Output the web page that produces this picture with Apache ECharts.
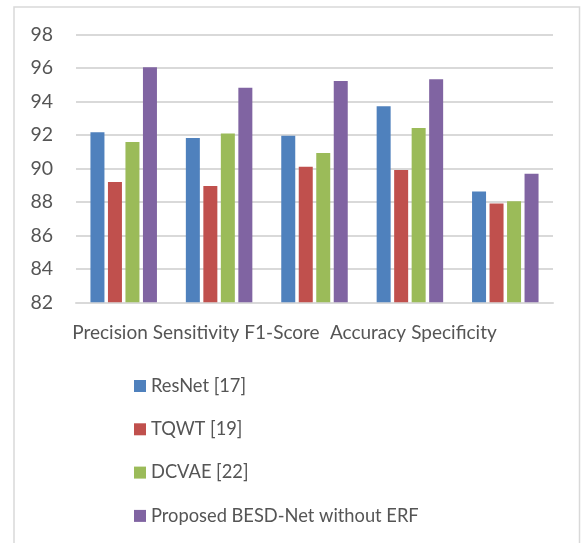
<!DOCTYPE html>
<html>
<head>
<meta charset="utf-8">
<script src="https://cdn.jsdelivr.net/npm/echarts@6/dist/echarts.min.js"></script>
<style>
  html, body { margin: 0; padding: 0; background: #ffffff; }
  #chart { width: 582px; height: 543px; }
</style>
</head>
<body>
<div id="chart"></div>
<script>
// Metric names along the horizontal axis
const categories = ['Precision', 'Sensitivity', 'F1-Score', 'Accuracy', 'Specificity'];

// Scores (%) per method
const resnet = [92.17, 91.82, 91.96, 93.72, 88.62];
const tqwt = [89.20, 88.95, 90.11, 89.91, 87.90];
const dcvae = [91.59, 92.10, 90.93, 92.42, 88.04];
const besdNet = [96.05, 94.83, 95.23, 95.33, 89.69];

const seriesNames = ['ResNet [17]', 'TQWT [19]', 'DCVAE [22]', 'Proposed BESD-Net without ERF'];
const seriesColors = ['#4F81BD', '#C0504D', '#9BBB59', '#8064A2'];
const seriesValues = [resnet, tqwt, dcvae, besdNet];

// Value axis range
const yMin = 82;
const yMax = 98;
const yStep = 2;

const FONT = 'Lato';
const TEXT = '#555555';
const GRIDLINE = '#d9d9d9';

const chart = echarts.init(document.getElementById('chart'), null, { renderer: 'canvas' });

const option = {
  backgroundColor: '#ffffff',
  animation: false,
  textStyle: { fontFamily: FONT, color: TEXT },
  graphic: [{
    type: 'rect',
    shape: { x: 14, y: 7, width: 565.5, height: 560 },
    style: { fill: 'none', stroke: GRIDLINE, lineWidth: 1.5 },
    silent: true
  }],
  grid: [
    { left: 76, right: 29, top: 34.7, bottom: 240.7, containLabel: false },
    { left: 67, width: 430, top: 34.7, bottom: 240.7, containLabel: false }
  ],
  xAxis: [
    {
      type: 'category',
      gridIndex: 0,
      data: categories,
      axisLine: { show: true, lineStyle: { color: GRIDLINE, width: 2 } },
      axisTick: { show: false },
      axisLabel: { show: false }
    },
    {
      type: 'category',
      gridIndex: 1,
      data: categories,
      axisLine: { show: false },
      axisTick: { show: false },
      axisLabel: { show: true, margin: 21, fontSize: 19, fontFamily: FONT, color: TEXT, interval: 0 }
    }
  ],
  yAxis: [
    {
      type: 'value',
      gridIndex: 0,
      min: yMin,
      max: yMax,
      interval: yStep,
      axisLine: { show: false },
      axisTick: { show: false },
      axisLabel: { margin: 23, fontSize: 19.5, fontFamily: FONT, color: TEXT },
      splitLine: { lineStyle: { color: GRIDLINE, width: 2 } }
    },
    {
      type: 'value',
      gridIndex: 1,
      show: false
    }
  ],
  legend: {
    orient: 'vertical',
    left: 129,
    top: 371,
    itemWidth: 12,
    itemHeight: 12,
    itemGap: 23.3,
    icon: 'rect',
    textStyle: { fontSize: 18.3, fontFamily: FONT, color: TEXT, lineHeight: 20 },
    data: seriesNames
  },
  series: seriesNames.map((name, i) => ({
    name: name,
    type: 'bar',
    xAxisIndex: 0,
    yAxisIndex: 0,
    data: seriesValues[i],
    barWidth: 14,
    barGap: '25%',
    itemStyle: { color: seriesColors[i] }
  }))
};

chart.setOption(option);
</script>
</body>
</html>
